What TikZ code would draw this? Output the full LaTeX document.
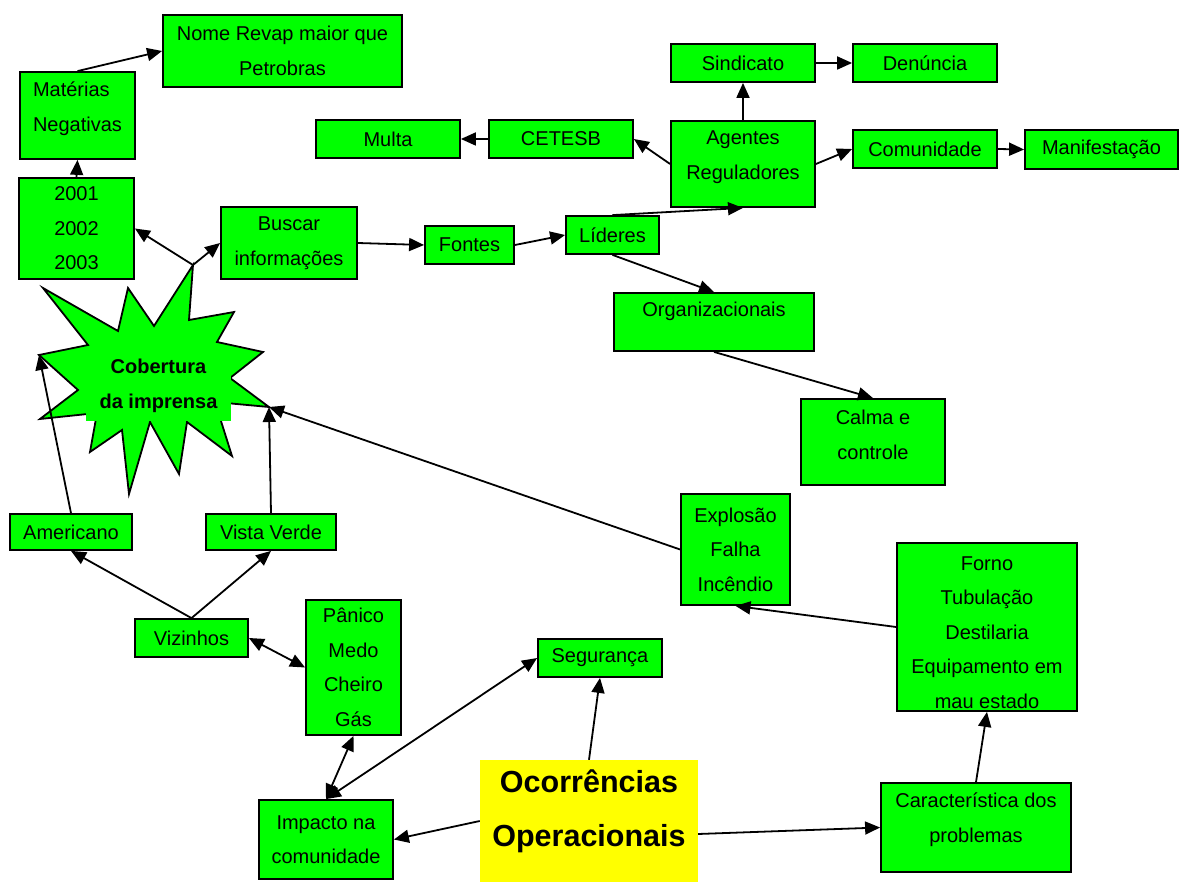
\documentclass[tikz,border=0pt]{standalone}
\usepackage{fontspec}
\setmainfont{Liberation Sans}
\usetikzlibrary{arrows.meta}
\definecolor{verde}{RGB}{0,255,0}
\definecolor{amarelo}{RGB}{255,255,0}

\begin{document}
\begin{tikzpicture}[x=1pt,y=-1pt,
    caixa/.style={draw=black, line width=1.8pt, fill=verde, align=center, inner sep=2pt,
                  font=\fontsize{20}{34.5}\selectfont},
    seta/.style={line width=1.8pt, -{Triangle[length=15pt,width=13pt]}},
    dupla/.style={line width=1.8pt, {Triangle[length=15pt,width=13pt]}-{Triangle[length=15pt,width=13pt]}}]
    \useasboundingbox (0,0) rectangle (1179,882);

    % estrela
    \coordinate (pontaTopo) at (193,265);
    \coordinate (pontaDir) at (269,407);
    \coordinate (pontaEsq) at (39,355);
    \draw [line width=1.8pt, fill=verde] (43,288) -- (118,331) -- (128,288) -- (154,326)
        -- (pontaTopo) -- (189,320) -- (234,312) -- (217,342) -- (263,352) -- (230,378)
        -- (pontaDir) -- (215,402) -- (232,456) -- (187,422) -- (179,474) -- (150,422)
        -- (129,494) -- (122,430) -- (90,452) -- (97,413) -- (40,419) -- (78,390)
        -- (pontaEsq) -- (88,345) -- cycle;
    \node [fill=verde, minimum width=145pt, minimum height=70pt, inner sep=2pt, align=center,
           font=\bfseries\fontsize{20}{35}\selectfont] (cobertura) at (158.5,386) {Cobertura\\da imprensa};

    % caixas
    \node [caixa, minimum width=239pt, minimum height=72pt] (nome) at (282.5,51) {Nome Revap maior que\\Petrobras};
    \node [caixa, align=left, minimum width=115pt, minimum height=87pt, text depth=18.2pt] (materias) at (77.5,115.5) {Matérias\\Negativas};
    \node [caixa, minimum width=115pt, minimum height=101pt] (anos) at (76.5,228.5) {2001\\2002\\2003};
    \node [caixa, minimum width=136pt, minimum height=72pt] (buscar) at (289,243) {Buscar\\informações};
    \node [caixa, minimum width=144pt, minimum height=38pt] (multa) at (388,139) {Multa};
    \node [caixa, minimum width=144pt, minimum height=38pt] (cetesb) at (561,139) {CETESB};
    \node [caixa, minimum width=144pt, minimum height=38pt] (sindicato) at (743,63) {Sindicato};
    \node [caixa, minimum width=144pt, minimum height=38pt] (denuncia) at (925,63) {Denúncia};
    \node [caixa, minimum width=144pt, minimum height=86pt, text depth=18.2pt] (agentes) at (743,164) {Agentes\\Reguladores};
    \node [caixa, minimum width=144pt, minimum height=38pt] (comunidade) at (925,149) {Comunidade};
    \node [caixa, minimum width=153pt, minimum height=39pt] (manifestacao) at (1101.5,149.5) {Manifestação};
    \node [caixa, minimum width=89pt, minimum height=38pt] (fontes) at (469.5,245) {Fontes};
    \node [caixa, minimum width=93pt, minimum height=38pt] (lideres) at (612.5,235) {Líderes};
    \node [caixa, minimum width=200pt, minimum height=58pt, text depth=26.2pt] (org) at (714,322) {Organizacionais};
    \node [caixa, minimum width=144pt, minimum height=86pt, text depth=14.3pt] (calma) at (873,442) {Calma e\\controle};
    \node [caixa, minimum width=122pt, minimum height=36pt] (americano) at (71,532) {Americano};
    \node [caixa, minimum width=130pt, minimum height=36pt] (vista) at (271,532) {Vista Verde};
    \node [caixa, minimum width=113pt, minimum height=38pt] (vizinhos) at (191.5,638) {Vizinhos};
    \node [caixa, minimum width=95pt, minimum height=135pt] (panico) at (353.5,667.5) {Pânico\\Medo\\Cheiro\\Gás};
    \node [caixa, minimum width=124pt, minimum height=38pt] (seguranca) at (600,658) {Segurança};
    \node [caixa, minimum width=134pt, minimum height=79pt] (impacto) at (326,839.5) {Impacto na\\comunidade};
    \node [caixa, minimum width=109pt, minimum height=111pt] (explosao) at (735.5,549.5) {Explosão\\Falha\\Incêndio};
    \node [caixa, minimum width=180pt, minimum height=168pt, text height=162.5pt] (forno) at (987,627) {Forno\\Tubulação\\Destilaria\\Equipamento em\\mau estado};
    \node [caixa, minimum width=190pt, minimum height=89pt, text depth=20.2pt] (caracteristica) at (976,827.5) {Característica dos\\problemas};
    \node [fill=amarelo, minimum width=218pt, minimum height=122pt, inner sep=2pt, align=center, text depth=26.3pt,
           font=\bfseries\fontsize{30.5}{54}\selectfont] (ocorrencias) at (589,821) {Ocorrências\\Operacionais};

    % ligacoes
    \draw [seta] (materias.north) -- (nome.west);
    \draw [seta] (anos.north) -- (materias.south);
    \draw [seta] (pontaTopo) -- (anos.east);
    \draw [seta] (pontaTopo) -- (buscar.west);
    \draw [seta] (buscar.east) -- (fontes.west);
    \draw [seta] (fontes.east) -- (lideres.west);
    \draw [seta] (lideres.north) -- (agentes.south);
    \draw [seta] (lideres.south) -- (org.north);
    \draw [seta] (org.south) -- (calma.north);
    \draw [seta] (agentes.west) -- (cetesb.east);
    \draw [seta] (cetesb.west) -- (multa.east);
    \draw [seta] (agentes.north) -- (sindicato.south);
    \draw [seta] (sindicato.east) -- (denuncia.west);
    \draw [seta] (agentes.east) -- (comunidade.west);
    \draw [seta] (comunidade.east) -- (manifestacao.west);
    \draw [seta] (explosao.west) -- (pontaDir);
    \draw [seta] (vista.north) -- (pontaDir);
    \draw [seta] (americano.north) -- (pontaEsq);
    \draw [seta] (vizinhos.north) -- (americano.south);
    \draw [seta] (vizinhos.north) -- (vista.south);
    \draw [dupla] (vizinhos.east) -- (panico.west);
    \draw [dupla] (impacto.north) -- (panico.south);
    \draw [dupla] (impacto.north) -- (seguranca.west);
    \draw [seta] (ocorrencias.west) -- (impacto.east);
    \draw [seta] (ocorrencias.north) -- (seguranca.south);
    \draw [seta] ([yshift=-13pt]ocorrencias.east) -- (caracteristica.west);
    \draw [seta] (caracteristica.north) -- (forno.south);
    \draw [seta] (forno.west) -- (explosao.south);
\end{tikzpicture}
\end{document}
